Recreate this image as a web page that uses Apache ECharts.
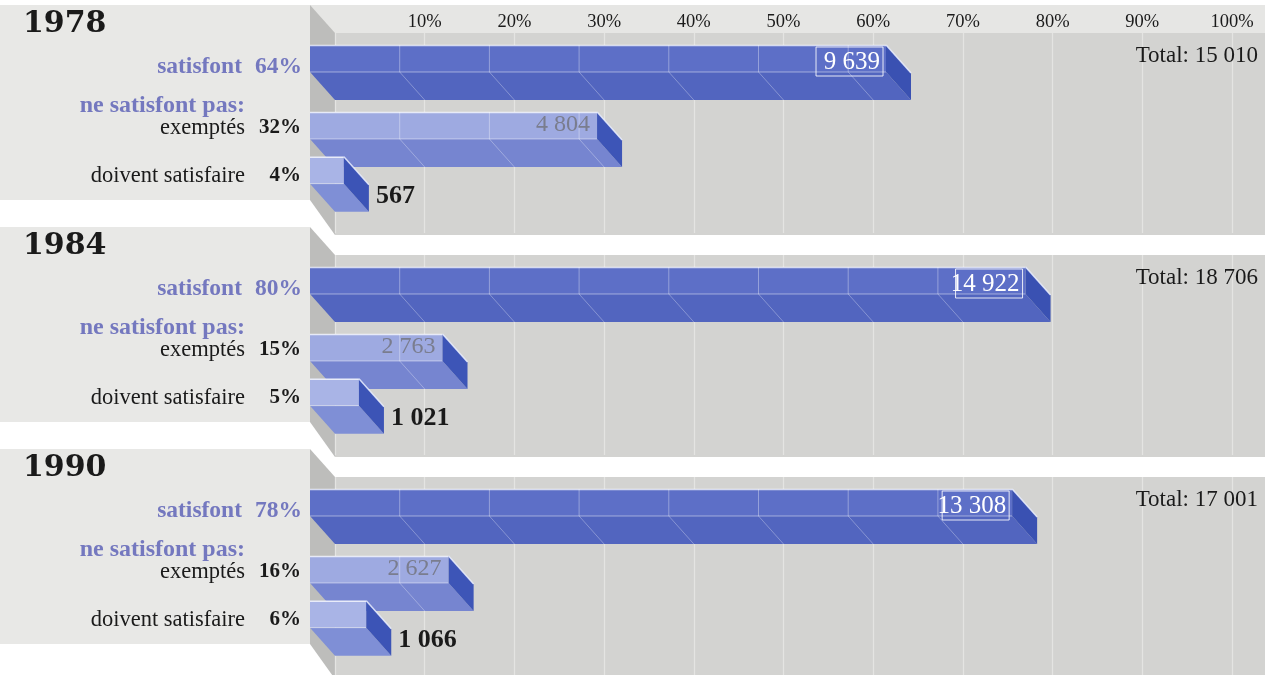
<!DOCTYPE html>
<html><head><meta charset="utf-8">
<script src="https://cdn.jsdelivr.net/npm/echarts@6/dist/echarts.min.js"></script>
<style>html,body{margin:0;padding:0;background:#fff}#c{width:1265px;height:675px}</style>
</head><body><div id="c"></div>
<script>
// ---------- data ----------
const years = ['1978', '1984', '1990'];
const rowLabels = ['satisfont', 'exemptés', 'doivent satisfaire'];
const headerLabel = 'ne satisfont pas:';
const counts1978 = [9639, 4804, 567];
const counts1984 = [14922, 2763, 1021];
const counts1990 = [13308, 2627, 1066];
const percents1978 = [64, 32, 4];
const percents1984 = [80, 15, 5];
const percents1990 = [78, 16, 6];
const totals = [15010, 18706, 17001];
const tickLabels = ['10%', '20%', '30%', '40%', '50%', '60%', '70%', '80%', '90%', '100%'];

const countsByYear = [counts1978, counts1984, counts1990];
const percentsByYear = [percents1978, percents1984, percents1990];

// ---------- layout / style ----------
const PANEL = 222;
const ROW_SLOT = [0, 3, 5];
const LABEL_DY = [22, 16, 19];
const H = 27, DX = 25, DY = 28;
const SERIF = 'Liberation Serif';
const WIDE = 'DejaVu Serif';
const PURPLE = '#7478bf';
const ROW_COLORS = [
  { front: '#5d6fc7', lower: '#5265bf', side: '#3a51b2' },
  { front: '#9eaae1', lower: '#7685d0', side: '#3d55b7' },
  { front: '#a9b4e6', lower: '#7f8fd6', side: '#3c54b6' }
];

function fmt(n) { return String(n).replace(/\B(?=(\d{3})+(?!\d))/g, ' '); }

function txt(x, y, text, o) {
  return {
    type: 'text', x: x, y: y, z2: 50,
    style: Object.assign({
      text: text, fill: '#1a1a1a', fontFamily: SERIF, fontSize: 22, fontWeight: 'normal',
      align: o.align || 'left', verticalAlign: 'middle',
      textAlign: o.align || 'left', textVerticalAlign: 'middle'
    }, o.style || {})
  };
}

function renderBox(params, api) {
  const pct = api.value(0), slot = api.value(1), count = api.value(2), row = api.value(3), panel = api.value(4);
  const p0 = api.coord([0, slot]);
  const p1 = api.coord([pct, slot]);
  const x0 = p0[0], x1 = p1[0], T = p0[1];
  const c = ROW_COLORS[row];
  const ch = [];
  // lower (receding) face
  ch.push({ type: 'polygon', shape: { points: [[x0, T + H], [x1, T + H], [x1 + DX, T + H + DY], [x0 + DX, T + H + DY]] }, style: { fill: c.lower } });
  // front face
  ch.push({ type: 'rect', shape: { x: x0, y: T, width: x1 - x0, height: H }, style: { fill: c.front } });
  // grid lines seen through the bar
  for (let v = 10; v < pct; v += 10) {
    const gx = api.coord([v, slot])[0];
    ch.push({ type: 'line', shape: { x1: gx, y1: T, x2: gx, y2: T + H }, style: { stroke: 'rgba(255,255,255,0.35)', lineWidth: 1 } });
    ch.push({ type: 'line', shape: { x1: gx, y1: T + H, x2: gx + DX, y2: T + H + DY }, style: { stroke: 'rgba(255,255,255,0.3)', lineWidth: 1 } });
  }
  // highlights
  ch.push({ type: 'line', shape: { x1: x0, y1: T + 0.5, x2: x1, y2: T + 0.5 }, style: { stroke: 'rgba(255,255,255,0.75)', lineWidth: 1.5 } });
  ch.push({ type: 'line', shape: { x1: x0, y1: T + H, x2: x1, y2: T + H }, style: { stroke: 'rgba(255,255,255,0.45)', lineWidth: 1 } });
  // side face
  ch.push({ type: 'polygon', shape: { points: [[x1, T], [x1 + DX, T + DY], [x1 + DX, T + H + DY], [x1, T + H]] }, style: { fill: c.side } });
  ch.push({ type: 'line', shape: { x1: x1, y1: T, x2: x1 + DX, y2: T + DY }, style: { stroke: 'rgba(235,240,255,0.85)', lineWidth: 1.5 } });

  // value labels
  const val = fmt(count);
  if (row === 0) {
    ch.push({ type: 'rect', shape: { x: x1 - 70, y: T + 2, width: 67, height: 29 }, style: { fill: 'none', stroke: 'rgba(255,255,255,0.85)', lineWidth: 1 } });
    ch.push(txt(x1 - 6, T + 17, val, { align: 'right', style: { fill: '#ffffff', fontSize: 25 } }));
  } else if (row === 1) {
    ch.push(txt(x1 - 7, T + 13, val, { align: 'right', style: { fill: '#7a7d8e', fontSize: 24 } }));
  } else {
    ch.push(txt(x1 + DX + 7, T + 40, val, { align: 'left', style: { fill: '#1a1a1a', fontSize: 26, fontWeight: 'bold' } }));
  }

  // left labels
  const pctText = percentsByYear[panel][row] + '%';
  const ly = T + LABEL_DY[row];
  if (row === 0) {
    ch.push(txt(x0 - 68, ly, rowLabels[row], { align: 'right', style: { fill: PURPLE, fontWeight: 'bold', fontSize: 23.5 } }));
    ch.push(txt(x0 - 8, ly, pctText, { align: 'right', style: { fill: PURPLE, fontWeight: 'bold', fontSize: 23.5 } }));
  } else {
    if (row === 1) {
      ch.push(txt(x0 - 65, T - 6, headerLabel, { align: 'right', style: { fill: PURPLE, fontWeight: 'bold', fontSize: 24 } }));
    }
    ch.push(txt(x0 - 65, ly, rowLabels[row], { align: 'right', style: { fill: '#1a1a1a', fontSize: 22.5 } }));
    ch.push(txt(x0 - 9, ly, pctText, { align: 'right', style: { fill: '#1a1a1a', fontWeight: 'bold', fontSize: 21 } }));
  }
  return { type: 'group', children: ch };
}

// ---------- build option ----------
const grid = [], xAxis = [], yAxis = [], series = [], graphic = [];
years.forEach(function (yr, k) {
  const oy = k * PANEL;
  // backgrounds
  graphic.push({ type: 'rect', z: -10, shape: { x: 0, y: oy + 5, width: 310, height: 195 }, style: { fill: '#e8e8e6' } });
  if (k === 0) graphic.push({ type: 'rect', z: -10, shape: { x: 310, y: oy + 5, width: 955, height: 28 }, style: { fill: '#e6e6e4' } });
  graphic.push({ type: 'rect', z: -10, shape: { x: 335, y: oy + 33, width: 930, height: 202 }, style: { fill: '#d3d3d1' } });
  graphic.push({ type: 'polygon', z: -9, shape: { points: [[310, oy + 5], [335, oy + 33], [335, oy + 235], [310, oy + 200]] }, style: { fill: '#bdbdbb' } });
  // texts
  graphic.push({ type: 'text', z: 100, x: 23, y: oy + 24, style: { text: yr, fill: '#1a1a1a', fontFamily: WIDE, fontWeight: 'bold', fontSize: 30, align: 'left', verticalAlign: 'middle', textAlign: 'left', textVerticalAlign: 'middle' } });
  graphic.push({ type: 'text', z: 100, x: 1258, y: oy + 56, style: { text: 'Total: ' + fmt(totals[k]), fill: '#1a1a1a', fontFamily: SERIF, fontSize: 23, align: 'right', verticalAlign: 'middle', textAlign: 'right', textVerticalAlign: 'middle' } });

  // back grid (floor with gridlines)
  grid.push({ left: 335, top: oy + 33, width: 897, height: 200 });
  xAxis.push({
    gridIndex: 2 * k, type: 'value', min: 0, max: 100, interval: 10, position: 'top', z: 1,
    axisLine: { show: false }, axisTick: { show: false },
    splitLine: { show: true, lineStyle: { color: '#e4e4e2', width: 1.3 } },
    axisLabel: {
      show: k === 0, margin: 1, color: '#1a1a1a', fontFamily: SERIF, fontSize: 18.5,
      formatter: function (v) { return v === 0 ? '' : tickLabels[Math.round(v / 10) - 1]; }
    }
  });
  yAxis.push({ gridIndex: 2 * k, type: 'value', min: 0, max: 1, show: false });

  // front grid (bars)
  grid.push({ left: 310, top: oy + 45, width: 897, height: 5 * 22.33 });
  xAxis.push({ gridIndex: 2 * k + 1, type: 'value', min: 0, max: 100, show: false });
  yAxis.push({ gridIndex: 2 * k + 1, type: 'value', min: 0, max: 5, inverse: true, show: false });

  const counts = countsByYear[k];
  series.push({
    type: 'custom', name: yr, xAxisIndex: 2 * k + 1, yAxisIndex: 2 * k + 1, z: 5,
    renderItem: renderBox, clip: false, silent: true,
    encode: { x: 0, y: 1 },
    data: counts.map(function (c, i) { return [c / totals[k] * 100, ROW_SLOT[i], c, i, k]; })
  });
});

const chart = echarts.init(document.getElementById('c'), null, { renderer: 'canvas' });
chart.setOption({
  animation: false,
  backgroundColor: '#ffffff',
  grid: grid, xAxis: xAxis, yAxis: yAxis, series: series, graphic: graphic
});
</script>
</body></html>
